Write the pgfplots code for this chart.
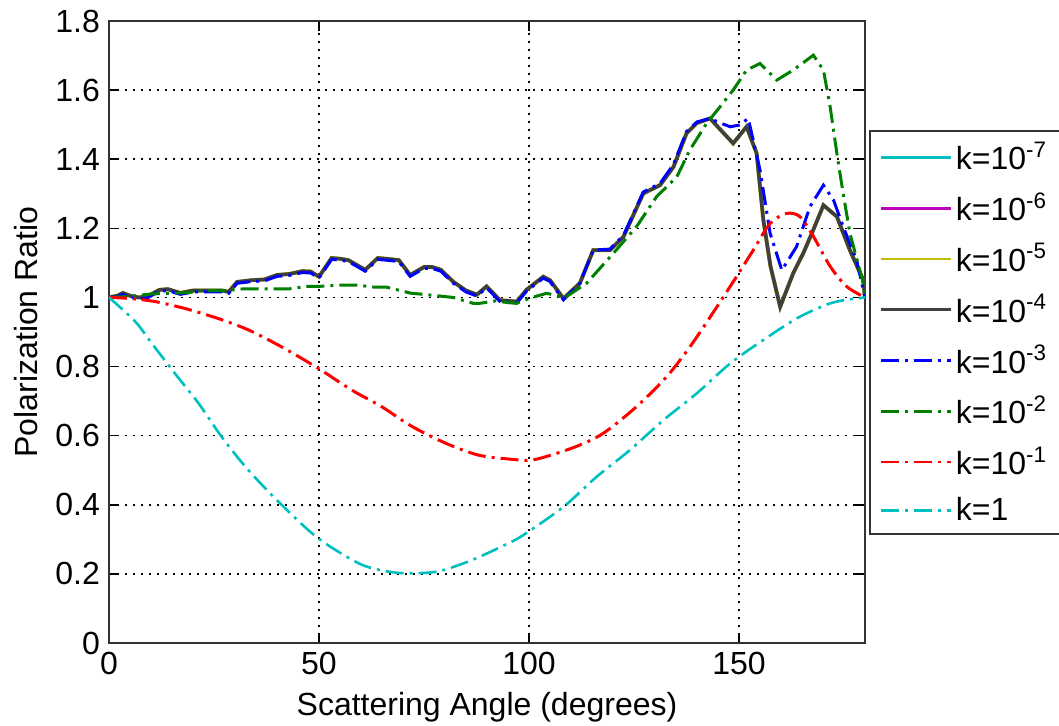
\documentclass[border=0pt]{standalone}
\usepackage{fontspec}
\setmainfont{Liberation Sans}
\usepackage{pgfplots}
\pgfplotsset{compat=1.18}
\usepackage{pgfplotstable}

\definecolor{mc}{rgb}{0,0.75,0.75}
\definecolor{mm}{rgb}{0.75,0,0.75}
\definecolor{my}{rgb}{0.75,0.75,0}
\definecolor{mk}{rgb}{0.25,0.25,0.25}
\definecolor{mg}{rgb}{0,0.5,0}
\tikzset{mdd/.style={dash pattern=on 9pt off 3pt on 1.5pt off 3pt}}

\pgfplotstableread{
x y
0 1.0
2 1.005
3.3 1.013
5 1.005
7 1.0
9 1.002
12 1.022
14 1.024
17 1.013
20 1.02
23 1.02
27 1.02
28.5 1.016
30.5 1.045
34 1.05
37 1.052
40 1.065
43 1.068
46 1.076
48 1.075
50 1.06
53 1.114
55 1.112
57 1.108
61 1.08
64 1.114
66 1.112
69 1.108
71.7 1.065
75 1.088
77 1.088
79 1.08
82 1.045
85 1.02
87.6 1.008
89.9 1.032
93.1 0.992
97.1 0.988
99.4 1.022
103.4 1.06
105 1.05
108.2 0.997
112.1 1.041
115.3 1.137
119.3 1.137
122.5 1.176
127.2 1.301
131.2 1.325
134.4 1.378
137.5 1.475
140 1.505
143.1 1.518
146 1.48
148.6 1.446
151.8 1.494
154.2 1.417
155.8 1.224
157.5 1.09
159.8 0.973
162.9 1.07
165.3 1.128
167.5 1.19
170.1 1.267
173.3 1.234
176.4 1.137
179.6 1.05
180 1.0
}\kfour

\pgfplotstableread{
x y
0 1.0
2 1.002
3.3 1.009
5 1.001
7 0.996
9 0.998
12 1.018
14 1.020
17 1.009
20 1.016
23 1.016
27 1.016
28.5 1.012
30.5 1.041
34 1.046
37 1.048
40 1.061
43 1.064
46 1.072
48 1.071
50 1.056
53 1.110
55 1.108
57 1.104
61 1.076
64 1.110
66 1.108
69 1.104
71.7 1.061
75 1.084
77 1.084
79 1.076
82 1.041
85 1.016
87.6 1.004
89.9 1.028
93.1 0.988
97.1 0.984
99.4 1.018
103.4 1.056
105 1.046
108.2 0.993
112.1 1.041
115.3 1.137
119.3 1.140
122.5 1.180
127.2 1.305
131.2 1.330
134.4 1.385
137.5 1.480
140 1.508
143.1 1.518
145.5 1.505
147.9 1.494
150.2 1.499
152.2 1.518
155 1.369
157.4 1.186
160.2 1.079
163.7 1.147
166.9 1.263
170.1 1.325
172.5 1.282
174.8 1.205
178 1.108
180 1.0
}\kthree

\pgfplotstableread{
x y
0 1.0
5 1.003
10 1.01
14 1.012
19 1.014
22 1.02
28 1.02
32 1.025
43 1.025
47 1.032
50 1.032
55 1.036
59 1.036
63 1.03
66 1.03
72 1.012
74 1.01
78 1.005
82 1.0
86.7 0.983
88.3 0.983
92 0.99
95 0.985
97 0.983
100.2 0.998
104.2 1.012
108.6 1.0
113.7 1.041
120.1 1.128
125.6 1.205
130.4 1.292
135.2 1.349
138.3 1.427
142.3 1.504
145.5 1.552
148.6 1.6
151.8 1.658
155 1.677
159 1.629
162.9 1.658
167.7 1.701
170.1 1.658
171.7 1.552
173.3 1.417
174.8 1.301
176.4 1.186
179.6 1.041
180 1.0
}\ktwo

\pgfplotstableread{
x y
0 1.0
5 0.997
11 0.988
18.1 0.968
26 0.939
33.2 0.906
41.1 0.857
49.8 0.795
57.8 0.732
64.9 0.684
72.1 0.627
80 0.579
87.9 0.544
95.5 0.532
100.2 0.529
104.2 0.54
111.3 0.569
117.7 0.607
125.6 0.684
132.8 0.771
138.3 0.857
143.5 0.95
148.6 1.045
153.4 1.137
157.4 1.214
161.3 1.243
164.5 1.234
167.7 1.177
171.7 1.09
175.6 1.032
180 1.0
}\kone

\pgfplotstableread{
x y
0 1.0
6.2 0.931
10.2 0.867
15.7 0.78
21.3 0.694
26.8 0.597
33.2 0.5
41.1 0.4
49.8 0.303
59.4 0.231
65 0.21
70.5 0.202
78.3 0.207
86.4 0.24
94.3 0.284
98.6 0.312
108.2 0.394
116.1 0.481
124 0.558
132 0.645
139.9 0.722
147.9 0.809
155.8 0.877
163.7 0.939
170 0.975
174 0.99
180 1.0
}\kzero

\begin{document}
\begin{tikzpicture}
\path[use as bounding box] (-54.5pt,-41pt) rectangle (475pt,321.5pt);
\begin{axis}[
  at={(0,0)}, anchor=south west,
  scale only axis, width=378pt, height=311pt,
  xmin=0, xmax=180, ymin=0, ymax=1.8,
  xtick={0,50,100,150}, xticklabels={0,50,100,150},
  ytick={0,0.2,0.4,0.6,0.8,1,1.2,1.4,1.6,1.8},
  yticklabels={0,0.2,0.4,0.6,0.8,1,1.2,1.4,1.6,1.8},
  font=\fontsize{16}{19}\selectfont,
  ticklabel style={font=\fontsize{16}{19}\selectfont},
  xticklabel style={yshift=-1pt},
  yticklabel style={xshift=-1pt},
  grid=major,
  major grid style={black, line width=0.8pt, dash pattern=on 0.8pt off 3.2pt},
  tick align=inside, major tick length=5pt,
  tick style={black, line width=0.8pt},
  axis line style={line width=1pt, black!80},
  xlabel={Scattering Angle (degrees)},
  ylabel={Polarization Ratio},
  xlabel style={at={(0.5,-0.1158)}, anchor=base},
  ylabel style={at={(-0.0952,0.5)}, anchor=base},
  legend style={at={(1.0053,0.8248)}, anchor=north west, draw=black!80,
    line width=1pt, font=\fontsize{16}{19}\selectfont,
    inner xsep=5pt, inner ysep=3.5pt, row sep=5.85pt,
    nodes={inner xsep=1.5pt, inner ysep=2pt},
    cells={anchor=west}},
  legend image code/.code={\draw[#1,line width=1.4pt] (0pt,0pt) -- (35pt,0pt);},
]
\addplot[mc, line width=1.5pt] table {\kfour};
\addlegendentry{k=10\textsuperscript{-7}}
\addplot[mm, line width=1.5pt] table {\kfour};
\addlegendentry{k=10\textsuperscript{-6}}
\addplot[my, line width=1.95pt] table {\kfour};
\addlegendentry{k=10\textsuperscript{-5}}
\addplot[mk, line width=1.8pt] table {\kfour};
\addlegendentry{k=10\textsuperscript{-4}}
\addplot[blue, line width=1.5pt, mdd] table {\kthree};
\addlegendentry{k=10\textsuperscript{-3}}
\addplot[mg, line width=1.5pt, mdd] table {\ktwo};
\addlegendentry{k=10\textsuperscript{-2}}
\addplot[red, line width=1.5pt, mdd, smooth] table {\kone};
\addlegendentry{k=10\textsuperscript{-1}}
\addplot[mc, line width=1.3pt, mdd, smooth] table {\kzero};
\addlegendentry{k=1}
\end{axis}
\end{tikzpicture}
\end{document}
